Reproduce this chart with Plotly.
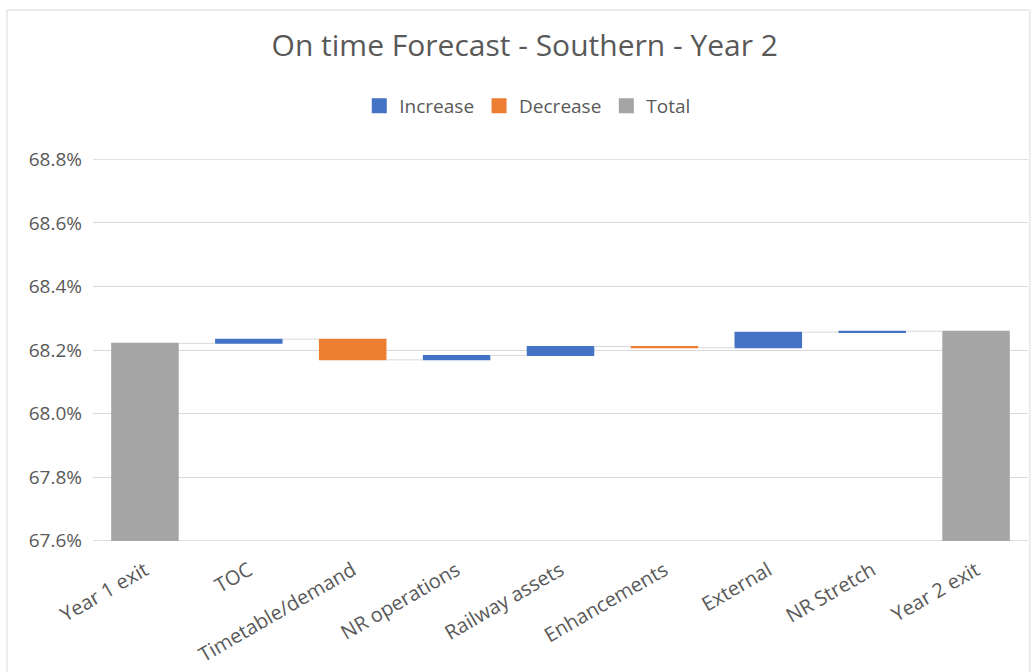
import plotly.graph_objects as go

categories = ["Year 1 exit", "TOC", "Timetable/demand", "NR operations", "Railway assets",
              "Enhancements", "External", "NR Stretch", "Year 2 exit"]
measures = ["absolute", "relative", "relative", "relative", "relative",
            "relative", "relative", "relative", "total"]
values = [68.221, 0.013, -0.065, 0.014, 0.028, -0.004, 0.049, 0.003, 0]

y_ticks = [67.6, 67.8, 68.0, 68.2, 68.4, 68.6, 68.8]
y_tick_labels = ["67.6%", "67.8%", "68.0%", "68.2%", "68.4%", "68.6%", "68.8%"]

c_inc, c_dec, c_tot = "#4472C4", "#ED7D31", "#A5A5A5"
font_family = "Open Sans, DejaVu Sans, sans-serif"
txt = "#595959"
grid = "#D9D9D9"

fig = go.Figure()
fig.add_trace(go.Waterfall(
    x=categories, y=values, measure=measures,
    increasing=dict(marker=dict(color=c_inc)),
    decreasing=dict(marker=dict(color=c_dec)),
    totals=dict(marker=dict(color=c_tot)),
    connector=dict(line=dict(color=grid, width=1)),
    width=0.65, showlegend=False, hoverinfo="skip",
))
for name, col in [("Increase", c_inc), ("Decrease", c_dec), ("Total", c_tot)]:
    fig.add_trace(go.Scatter(x=[None], y=[None], mode="markers", name=name,
                             marker=dict(symbol="square", size=15, color=col)))

edge_lines = [dict(type="line", xref="paper", yref="y", x0=0, x1=1, y0=v, y1=v,
                   line=dict(color=grid, width=1), layer="below")
              for v in (y_ticks[0], y_ticks[-1])]

fig.update_layout(
    width=1035, height=672,
    margin=dict(l=93, r=7, t=159, b=131),
    paper_bgcolor="white", plot_bgcolor="white",
    font=dict(family=font_family, color=txt, size=19),
    title=dict(text="On time Forecast - Southern - Year 2", x=0.507, xanchor="center",
               y=0.933, yanchor="middle", font=dict(size=30, color=txt, family=font_family)),
    legend=dict(orientation="h", x=0.465, xanchor="center", y=1.139, yanchor="middle",
                font=dict(size=19, color=txt), itemwidth=30, bgcolor="rgba(0,0,0,0)"),
    xaxis=dict(type="category", tickangle=-30, showgrid=False, showline=False,
               ticks="", tickfont=dict(size=20, color=txt), ticklabelstandoff=13,
               automargin=False),
    yaxis=dict(range=[67.599, 68.801], tickvals=y_ticks, ticktext=y_tick_labels,
               showgrid=True, gridcolor=grid, gridwidth=1, zeroline=False,
               showline=False, ticks="", tickfont=dict(size=19, color=txt),
               ticklabelstandoff=10, automargin=False),
    shapes=[dict(type="rect", xref="paper", yref="paper", x0=-0.092, x1=1.002,
                 y0=-0.36, y1=1.39, line=dict(color=grid, width=1), layer="below")]
           + edge_lines,
)

fig.write_html("out.html")
